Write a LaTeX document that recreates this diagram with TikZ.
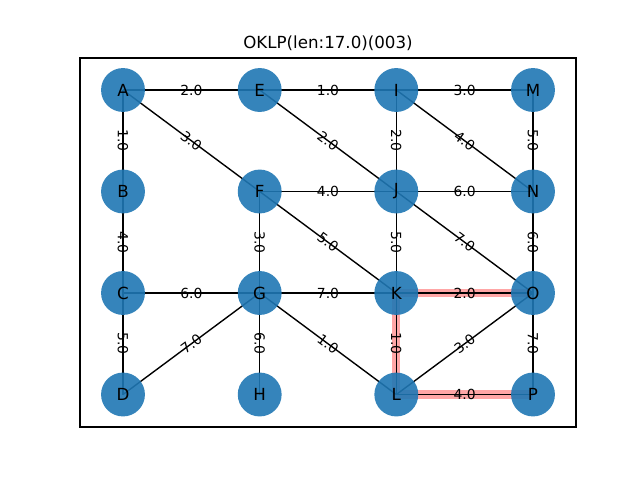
\documentclass[tikz,border=0pt]{standalone}
\usepackage{fontspec}
\setmainfont{DejaVu Sans}
\usetikzlibrary{backgrounds}
\definecolor{nodeblue}{HTML}{1F77B4}
\tikzset{
  vertex/.style={circle,fill=nodeblue,fill opacity=0.9,text opacity=1,minimum size=31.6pt,inner sep=0pt,font=\fontsize{12}{14}\selectfont},
  edge/.style={draw=black,line width=1pt},
  wt/.style={font=\fontsize{10}{12}\selectfont,sloped,inner sep=1pt,midway},
  route/.style={draw=red,draw opacity=0.35,line width=5.8pt}
}

\begin{document}
\begin{tikzpicture}[x=0.72pt,y=-0.72pt]
    \useasboundingbox (0,0) rectangle (640,480);
    \draw [line width=0.8pt] (80,58) rectangle (576,427);
    \node (title) at (328,43) {\fontsize{12}{14}\selectfont OKLP(len:17.0)(003)};
    \node [vertex] (A) at (123,90) {A};
    \node [vertex] (E) at (259.7,90) {E};
    \node [vertex] (I) at (396.3,90) {I};
    \node [vertex] (M) at (533,90) {M};
    \node [vertex] (B) at (123,191.5) {B};
    \node [vertex] (F) at (259.7,191.5) {F};
    \node [vertex] (J) at (396.3,191.5) {J};
    \node [vertex] (N) at (533,191.5) {N};
    \node [vertex] (C) at (123,293) {C};
    \node [vertex] (G) at (259.7,293) {G};
    \node [vertex] (K) at (396.3,293) {K};
    \node [vertex] (O) at (533,293) {O};
    \node [vertex] (D) at (123,394.5) {D};
    \node [vertex] (H) at (259.7,394.5) {H};
    \node [vertex] (L) at (396.3,394.5) {L};
    \node [vertex] (P) at (533,394.5) {P};
    \begin{scope}[on background layer]
      % shortest path O-K-L-P
      \draw [route] (O.center) -- (K.center) -- (L.center) -- (P.center);
      % rows
      \draw [edge] (A.center) -- (E.center) node[wt] {2.0};
      \draw [edge] (E.center) -- (I.center) node[wt] {1.0};
      \draw [edge] (I.center) -- (M.center) node[wt] {3.0};
      \draw [edge] (F.center) -- (J.center) node[wt] {4.0};
      \draw [edge] (J.center) -- (N.center) node[wt] {6.0};
      \draw [edge] (C.center) -- (G.center) node[wt] {6.0};
      \draw [edge] (G.center) -- (K.center) node[wt] {7.0};
      \draw [edge] (K.center) -- (O.center) node[wt] {2.0};
      \draw [edge] (L.center) -- (P.center) node[wt] {4.0};
      % columns
      \draw [edge] (A.center) -- (B.center) node[wt] {1.0};
      \draw [edge] (B.center) -- (C.center) node[wt] {4.0};
      \draw [edge] (C.center) -- (D.center) node[wt] {5.0};
      \draw [edge] (F.center) -- (G.center) node[wt] {3.0};
      \draw [edge] (G.center) -- (H.center) node[wt] {6.0};
      \draw [edge] (I.center) -- (J.center) node[wt] {2.0};
      \draw [edge] (J.center) -- (K.center) node[wt] {5.0};
      \draw [edge] (K.center) -- (L.center) node[wt] {1.0};
      \draw [edge] (M.center) -- (N.center) node[wt] {5.0};
      \draw [edge] (N.center) -- (O.center) node[wt] {6.0};
      \draw [edge] (O.center) -- (P.center) node[wt] {7.0};
      % diagonals
      \draw [edge] (A.center) -- (F.center) node[wt] {3.0};
      \draw [edge] (E.center) -- (J.center) node[wt] {2.0};
      \draw [edge] (I.center) -- (N.center) node[wt] {4.0};
      \draw [edge] (F.center) -- (K.center) node[wt] {5.0};
      \draw [edge] (J.center) -- (O.center) node[wt] {7.0};
      \draw [edge] (G.center) -- (L.center) node[wt] {1.0};
      \draw [edge] (D.center) -- (G.center) node[wt] {7.0};
      \draw [edge] (L.center) -- (O.center) node[wt] {3.0};
    \end{scope}
\end{tikzpicture}
\end{document}
